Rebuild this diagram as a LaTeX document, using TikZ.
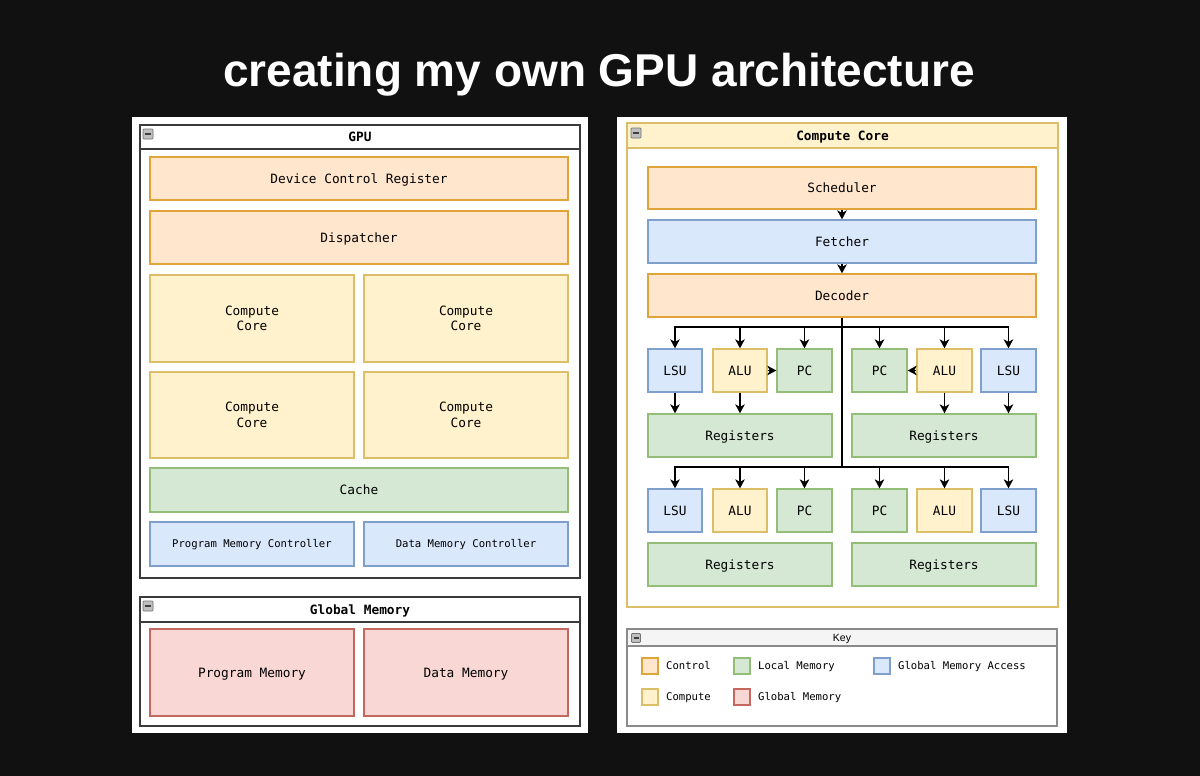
\documentclass[tikz,border=0pt]{standalone}
\usepackage{fontspec}
\setmainfont{Liberation Sans}
\newfontfamily\monof{DejaVu Sans Mono}
\usetikzlibrary{arrows.meta}
\definecolor{bgc}{HTML}{111111}
\definecolor{oraF}{HTML}{FFE6CC}\definecolor{oraD}{HTML}{E0A53A}
\definecolor{yelF}{HTML}{FFF2CC}\definecolor{yelD}{HTML}{DDBE68}
\definecolor{grnF}{HTML}{D5E8D4}\definecolor{grnD}{HTML}{92BE78}
\definecolor{bluF}{HTML}{DAE8FC}\definecolor{bluD}{HTML}{7F9FCC}
\definecolor{redF}{HTML}{F8D7D4}\definecolor{redD}{HTML}{C4675F}
\definecolor{cntD}{HTML}{3A3A3A}
\definecolor{keyD}{HTML}{8A8A8A}\definecolor{keyF}{HTML}{F5F5F5}
\newcommand\mtxt{\monof\fontsize{12.8}{15.5}\selectfont}
\newcommand\stxt{\monof\fontsize{10.6}{13}\selectfont}
\newcommand\bx[7]{\node[#2, minimum width={#5-#3}, minimum height={#6-#4}] (#1) at ({(#3+#5)/2},{(#4+#6)/2}) {#7};}
\tikzset{
  x=1pt, y=-1pt,
  box/.style={draw, line width=1.3pt, inner sep=0pt, font=\mtxt, align=center, text=black, text height=9.4pt, text depth=0pt},
  two/.style={text height={}, text depth={}},
  ora/.style={box, fill=oraF, draw=oraD},
  yel/.style={box, fill=yelF, draw=yelD},
  grn/.style={box, fill=grnF, draw=grnD},
  blu/.style={box, fill=bluF, draw=bluD},
  red/.style={box, fill=redF, draw=redD},
  small/.style={font=\stxt, text height=7.8pt},
  panel/.style={fill=white, draw=none, inner sep=0pt},
  cont/.style={draw=cntD, fill=white, line width=1.3pt, inner sep=0pt},
  hdr/.style={cont, font=\mtxt\bfseries, text height=9.4pt, text depth=0pt},
  ccont/.style={draw=yelD, fill=white, line width=1.3pt, inner sep=0pt},
  chdr/.style={draw=yelD, fill=yelF, line width=1.3pt, inner sep=0pt, font=\mtxt\bfseries, text height=9.4pt, text depth=0pt},
  kcont/.style={draw=keyD, fill=white, line width=1.3pt, inner sep=0pt},
  khdr/.style={draw=keyD, fill=keyF, line width=1.3pt, inner sep=0pt, font=\fontsize{10.5}{12}\selectfont, text height=7.6pt, text depth=0pt},
  mini/.style={draw=black!55, fill=black!25, minimum size=10pt, inner sep=0pt, rounded corners=0.8pt, line width=0.7pt,
    path picture={\draw[line width=1.3pt, black!75] ([xshift=2pt]path picture bounding box.west) -- ([xshift=-2pt]path picture bounding box.east);}},
  arr/.style={-{Stealth[length=9pt,width=9.5pt,inset=2.5pt]}, line width=1.3pt, black},
  ln/.style={line width=1.3pt, black},
  sw/.style={line width=1.2pt, inner sep=0pt, minimum size=16pt},
  klab/.style={anchor=west, font=\stxt, inner sep=0pt, text height=7.8pt, text depth=0pt},
}
\begin{document}
\begin{tikzpicture}
\useasboundingbox (0,0) rectangle (1200,776);
\fill[bgc] (0,0) rectangle (1200,776);
% title
\node[anchor=base, text=white, font=\fontsize{46}{50}\selectfont\bfseries, inner sep=0pt] (title) at (599,86) {creating my own GPU architecture};
% panels
\bx{panelL}{panel}{132}{117}{588}{733}{}
\bx{panelR}{panel}{617}{117}{1067}{733}{}
% ===== GPU =====
\bx{gpu}{cont}{140}{125}{580}{578}{}
\bx{gpuH}{hdr}{140}{125}{580}{149}{GPU}
\node[mini] (gpuI) at (148,134) {};
\bx{dcr}{ora}{150}{157}{568}{200}{Device Control Register}
\bx{disp}{ora}{150}{211}{568}{264}{Dispatcher}
\bx{cc1}{yel,two}{150}{275}{354}{362}{Compute\\Core}
\bx{cc2}{yel,two}{364}{275}{568}{362}{Compute\\Core}
\bx{cc3}{yel,two}{150}{372}{354}{458}{Compute\\Core}
\bx{cc4}{yel,two}{364}{372}{568}{458}{Compute\\Core}
\bx{cache}{grn}{150}{468}{568}{512}{Cache}
\bx{pmc}{blu,small}{150}{522}{354}{566}{Program Memory Controller}
\bx{dmc}{blu,small}{364}{522}{568}{566}{Data Memory Controller}
% ===== Global Memory =====
\bx{gm}{cont}{140}{597}{580}{726}{}
\bx{gmH}{hdr}{140}{597}{580}{622}{Global Memory}
\node[mini] (gmI) at (148,606) {};
\bx{pm}{red}{150}{629}{354}{716}{Program Memory}
\bx{dm}{red}{364}{629}{568}{716}{Data Memory}
% ===== Compute Core =====
\bx{core}{ccont}{627}{123}{1058}{607}{}
\bx{coreH}{chdr}{627}{123}{1058}{148}{Compute Core}
\node[mini] (coreI) at (636,133) {};
\bx{sch}{ora}{648}{167}{1036}{209}{Scheduler}
\bx{fet}{blu}{648}{220}{1036}{263}{Fetcher}
\bx{dec}{ora}{648}{274}{1036}{317}{Decoder}
% row 1
\bx{lsuA}{blu}{648}{349}{702}{392}{LSU}
\bx{aluA}{yel}{713}{349}{767}{392}{ALU}
\bx{pcA}{grn}{777}{349}{832}{392}{PC}
\bx{pcB}{grn}{852}{349}{907}{392}{PC}
\bx{aluB}{yel}{917}{349}{972}{392}{ALU}
\bx{lsuB}{blu}{981}{349}{1036}{392}{LSU}
\bx{regA}{grn}{648}{414}{832}{457}{Registers}
\bx{regB}{grn}{852}{414}{1036}{457}{Registers}
% row 2
\bx{lsuC}{blu}{648}{489}{702}{532}{LSU}
\bx{aluC}{yel}{713}{489}{767}{532}{ALU}
\bx{pcC}{grn}{777}{489}{832}{532}{PC}
\bx{pcD}{grn}{852}{489}{907}{532}{PC}
\bx{aluD}{yel}{917}{489}{972}{532}{ALU}
\bx{lsuD}{blu}{981}{489}{1036}{532}{LSU}
\bx{regC}{grn}{648}{543}{832}{586}{Registers}
\bx{regD}{grn}{852}{543}{1036}{586}{Registers}
% connectors
\coordinate (jA) at (842,327);
\coordinate (jB) at (842,467);
\draw[arr] (sch) -- (fet);
\draw[arr] (fet) -- (dec);
\draw[ln] (dec.south) -- (jB);
\foreach \n in {lsuA,aluA,pcA,pcB,aluB,lsuB}{\draw[arr] (jA) -| (\n.north);}
\foreach \n in {lsuC,aluC,pcC,pcD,aluD,lsuD}{\draw[arr] (jB) -| (\n.north);}
\draw[arr] (lsuA.south) -- (lsuA.south |- regA.north);
\draw[arr] (aluA.south) -- (aluA.south |- regA.north);
\draw[arr] (aluA.east) -- (pcA.west);
\draw[arr] (aluB.west) -- (pcB.east);
\draw[arr] (aluB.south) -- (aluB.south |- regB.north);
\draw[arr] (lsuB.south) -- (lsuB.south |- regB.north);
% ===== Key =====
\bx{key}{kcont}{627}{629}{1057}{726}{}
\bx{keyH}{khdr}{627}{629}{1057}{646}{Key}
\node[mini, minimum size=9pt] (keyI) at (636,638) {};
\node[sw, fill=oraF, draw=oraD] (swCtl) at (650,666) {};
\node[klab] (tCtl) at (666,666) {Control};
\node[sw, fill=grnF, draw=grnD] (swLoc) at (742,666) {};
\node[klab] (tLoc) at (758,666) {Local Memory};
\node[sw, fill=bluF, draw=bluD] (swGma) at (882,666) {};
\node[klab] (tGma) at (898,666) {Global Memory Access};
\node[sw, fill=yelF, draw=yelD] (swCmp) at (650,697) {};
\node[klab] (tCmp) at (666,697) {Compute};
\node[sw, fill=redF, draw=redD] (swGm) at (742,697) {};
\node[klab] (tGm) at (758,697) {Global Memory};
\end{tikzpicture}
\end{document}
